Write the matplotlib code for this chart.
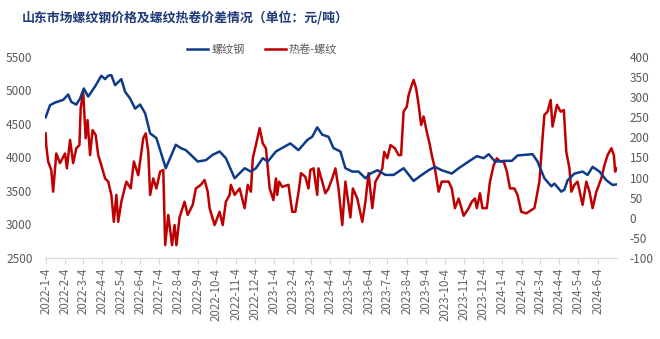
import pandas as pd
import matplotlib.pyplot as plt

plt.rcParams['font.family'] = ['Noto Sans CJK SC', 'DejaVu Sans']
plt.rcParams['axes.unicode_minus'] = False

# 螺纹钢价格 (元/吨)
rebar_dates = [
    "2022-01-04", "2022-01-11", "2022-01-19", "2022-02-01", "2022-02-09", "2022-02-14",
    "2022-02-22", "2022-02-28", "2022-03-06", "2022-03-13", "2022-03-24", "2022-04-03",
    "2022-04-09", "2022-04-14", "2022-04-19", "2022-04-25", "2022-05-05", "2022-05-11",
    "2022-05-19", "2022-05-27", "2022-06-04", "2022-06-12", "2022-06-20", "2022-06-30",
    "2022-07-10", "2022-07-15", "2022-07-31", "2022-08-08", "2022-08-16", "2022-08-24",
    "2022-09-04", "2022-09-17", "2022-09-28", "2022-10-09", "2022-10-19", "2022-11-02",
    "2022-11-18", "2022-11-28", "2022-12-06", "2022-12-17", "2022-12-25", "2023-01-07",
    "2023-01-30", "2023-02-12", "2023-02-26", "2023-03-06", "2023-03-14", "2023-03-22",
    "2023-04-01", "2023-04-09", "2023-04-20", "2023-04-28", "2023-05-09", "2023-05-19",
    "2023-05-30", "2023-06-07", "2023-06-18", "2023-07-01", "2023-07-14", "2023-07-30",
    "2023-08-15", "2023-08-28", "2023-09-08", "2023-09-18", "2023-09-29", "2023-10-15",
    "2023-10-26", "2023-11-11", "2023-11-24", "2023-12-05", "2023-12-13", "2023-12-23",
    "2024-01-08", "2024-01-19", "2024-01-28", "2024-02-21", "2024-02-29", "2024-03-11",
    "2024-03-22", "2024-03-27", "2024-04-07", "2024-04-12", "2024-04-17", "2024-04-28",
    "2024-05-11", "2024-05-19", "2024-05-27", "2024-06-07", "2024-06-18", "2024-06-28",
    "2024-07-05",
]
rebar_price = [
    4600, 4780, 4820, 4860, 4940, 4830, 4790, 4880, 5030, 4910, 5060, 5220,
    5170, 5220, 5230, 5080, 5170, 4980, 4880, 4730, 4790, 4660, 4360, 4290,
    3990, 3840, 4190, 4140, 4110, 4040, 3940, 3960, 4040, 4090, 3990, 3690,
    3840, 3790, 3840, 3990, 3940, 4090, 4210, 4110, 4260, 4310, 4450, 4340,
    4310, 4140, 4090, 3840, 3790, 3790, 3690, 3760, 3810, 3740, 3740, 3840,
    3650, 3740, 3810, 3860, 3810, 3760, 3840, 3940, 4020, 3990, 4050, 3940,
    3950, 3950, 4030, 4050, 3940, 3690, 3570, 3610, 3490, 3520, 3660, 3760,
    3790, 3740, 3860, 3790, 3660, 3590, 3600,
]

# 热卷-螺纹 价差 (元/吨)
spread_dates = [
    "2022-01-04", "2022-01-05", "2022-01-08", "2022-01-13", "2022-01-16", "2022-01-21",
    "2022-01-27", "2022-02-04", "2022-02-07", "2022-02-12", "2022-02-17", "2022-02-22",
    "2022-02-27", "2022-03-01", "2022-03-05", "2022-03-09", "2022-03-12", "2022-03-16",
    "2022-03-20", "2022-03-25", "2022-03-29", "2022-04-03", "2022-04-09", "2022-04-14",
    "2022-04-19", "2022-04-23", "2022-04-27", "2022-04-30", "2022-05-05", "2022-05-13",
    "2022-05-20", "2022-05-25", "2022-06-01", "2022-06-09", "2022-06-13", "2022-06-17",
    "2022-06-20", "2022-06-25", "2022-06-30", "2022-07-06", "2022-07-11", "2022-07-14",
    "2022-07-19", "2022-07-25", "2022-07-29", "2022-08-01", "2022-08-06", "2022-08-14",
    "2022-08-19", "2022-08-27", "2022-09-01", "2022-09-09", "2022-09-15", "2022-09-20",
    "2022-09-23", "2022-10-01", "2022-10-09", "2022-10-14", "2022-10-19", "2022-10-25",
    "2022-10-27", "2022-11-02", "2022-11-10", "2022-11-18", "2022-11-23", "2022-11-28",
    "2022-12-01", "2022-12-06", "2022-12-12", "2022-12-17", "2022-12-22", "2022-12-28",
    "2023-01-03", "2023-01-07", "2023-01-09", "2023-01-12", "2023-01-17", "2023-01-27",
    "2023-02-02", "2023-02-07", "2023-02-13", "2023-02-16", "2023-02-23", "2023-02-28",
    "2023-03-03", "2023-03-08", "2023-03-14", "2023-03-16", "2023-03-22", "2023-03-27",
    "2023-04-01", "2023-04-07", "2023-04-12", "2023-04-17", "2023-04-23", "2023-04-28",
    "2023-05-01", "2023-05-06", "2023-05-10", "2023-05-17", "2023-05-25", "2023-05-30",
    "2023-06-04", "2023-06-10", "2023-06-15", "2023-06-21", "2023-06-26", "2023-06-29",
    "2023-07-04", "2023-07-09", "2023-07-16", "2023-07-22", "2023-07-26", "2023-07-30",
    "2023-08-04", "2023-08-07", "2023-08-12", "2023-08-15", "2023-08-19", "2023-08-23",
    "2023-08-27", "2023-08-31", "2023-09-05", "2023-09-10", "2023-09-13", "2023-09-18",
    "2023-09-24", "2023-09-29", "2023-10-10", "2023-10-15", "2023-10-20", "2023-10-26",
    "2023-11-03", "2023-11-11", "2023-11-16", "2023-11-21", "2023-11-24", "2023-11-29",
    "2023-12-03", "2023-12-10", "2023-12-15", "2023-12-21", "2023-12-26", "2023-12-31",
    "2024-01-06", "2024-01-11", "2024-01-16", "2024-01-23", "2024-01-28", "2024-02-03",
    "2024-02-11", "2024-02-19", "2024-02-24", "2024-02-27", "2024-03-03", "2024-03-08",
    "2024-03-11", "2024-03-16", "2024-03-21", "2024-03-24", "2024-03-31", "2024-04-06",
    "2024-04-11", "2024-04-15", "2024-04-20", "2024-04-23", "2024-04-28", "2024-05-03",
    "2024-05-11", "2024-05-17", "2024-05-22", "2024-05-27", "2024-06-02", "2024-06-10",
    "2024-06-15", "2024-06-20", "2024-06-26", "2024-06-30", "2024-07-02", "2024-07-05",
]
spread = [
    210, 180, 140, 119, 65, 160, 136, 160, 123, 194, 136, 173,
    181, 272, 314, 198, 243, 156, 218, 206, 156, 131, 98, 90,
    57, -10, 57, -10, 40, 90, 73, 140, 106, 198, 210, 164,
    57, 98, 73, 115, 119, -68, 7, -68, -18, -68, 1, 40,
    7, 32, 73, 82, 94, 65, 24, -18, 15, -18, 40, 57,
    82, 57, 73, 24, 82, 65, 148, 181, 223, 185, 173, 73,
    44, 98, 57, 90, 77, 82, 15, 15, 73, 111, 102, 73,
    119, 123, 57, 123, 90, 61, 73, 98, 123, 73, -18, 90,
    57, 1, 73, 48, -10, 40, 111, 24, 90, 106, 123, 164,
    148, 181, 173, 156, 156, 264, 276, 305, 330, 343, 322, 281,
    231, 252, 214, 181, 156, 123, 65, 90, 90, 73, 24, 48,
    5, 24, 40, 48, 24, 61, 24, 24, 90, 131, 148, 140,
    140, 115, 73, 73, 57, 15, 11, 19, 24, 48, 90, 198,
    256, 264, 293, 227, 281, 264, 268, 164, 123, 65, 82, 90,
    32, 90, 65, 24, 65, 98, 131, 156, 173, 156, 115, 123,
]

tick_dates = pd.date_range("2022-01-01", "2024-06-01", freq="MS") + pd.Timedelta(days=3)
tick_labels = [f"{d.year}-{d.month}-{d.day}" for d in tick_dates]

blue = "#0e3a8a"
red = "#c00000"
gray = "#595959"

fig = plt.figure(figsize=(6.6, 3.39), dpi=100)
ax = fig.add_axes([45 / 660, 1 - 258 / 339, (617 - 45) / 660, (258 - 57) / 339])
ax2 = ax.twinx()

l1, = ax.plot(pd.to_datetime(rebar_dates), rebar_price, color=blue, lw=1.8, label="螺纹钢")
l2, = ax2.plot(pd.to_datetime(spread_dates), spread, color=red, lw=1.8, label="热卷-螺纹")
ax.set_zorder(ax2.get_zorder() + 1)
ax.patch.set_visible(False)

ax.set_ylim(2500, 5500)
ax.set_yticks(range(2500, 5501, 500))
ax2.set_ylim(-100, 400)
ax2.set_yticks(range(-100, 401, 50))
ax.set_xlim(pd.Timestamp("2022-01-03"), pd.Timestamp("2024-07-05"))
ax.set_xticks(tick_dates)
ax.set_xticklabels(tick_labels, rotation=90, fontsize=8.3, color="#666666")

for a in (ax, ax2):
    for s in ("top", "left", "right"):
        a.spines[s].set_visible(False)
    a.spines["bottom"].set_color("#d9d9d9")
    a.tick_params(axis="y", length=0, labelsize=8.5, labelcolor=gray, pad=9)
ax.tick_params(axis="x", length=4, color="#d9d9d9", pad=3)

fig.text(22 / 660, 1 - 17 / 339, "山东市场螺纹钢价格及螺纹热卷价差情况（单位：元/吨）",
         fontsize=9.3, fontweight="bold", color="#1f3a78", va="center", ha="left")

fig.legend([l1, l2], ["螺纹钢", "热卷-螺纹"], loc="center", bbox_to_anchor=(262 / 660, 1 - 50 / 339),
           ncol=2, frameon=False, fontsize=8, labelcolor=gray, handlelength=1.9,
           columnspacing=1.8, handletextpad=0.3)

fig.savefig("out.png", dpi=100)
